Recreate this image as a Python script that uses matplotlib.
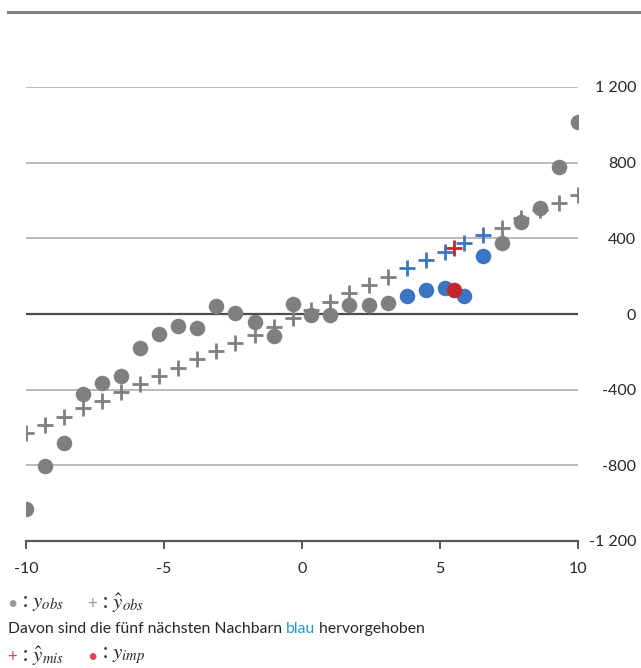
#!/usr/bin/env python3
"""Nearest-neighbour imputation illustration (predictive mean matching)."""

import matplotlib
matplotlib.use("Agg")
import matplotlib.pyplot as plt
from matplotlib.lines import Line2D

# ---------------------------------------------------------------------------
# Data
# ---------------------------------------------------------------------------
X_OBS = [-10.0, -9.31, -8.62, -7.93, -7.24, -6.55, -5.86, -5.17, -4.48, -3.79,
         -3.10, -2.41, -1.72, -1.03, -0.34, 0.34, 1.03, 1.72, 2.41, 3.10,
         3.79, 4.48, 5.17, 5.86, 6.55, 7.24, 7.93, 8.62, 9.31, 10.0]
Y_OBS = [-1031, -803, -682, -423, -365, -328, -180, -106, -63, -74,
         42, 5, -42, -116, 53, -5, -5, 48, 48, 58,
         95, 127, 137, 95, 307, 375, 486, 560, 777, 1015]
Y_HAT_OBS = [-629, -587, -544, -497, -460, -412, -370, -328, -285, -238,
             -196, -153, -111, -69, -21, 21, 63, 111, 153, 196,
             243, 285, 328, 375, 418, 455, 507, 550, 587, 629]
NEIGHBOURS = [20, 21, 22, 23, 24]  # indices of the five nearest neighbours

X_MIS = [5.51]
Y_HAT_MIS = [349]
Y_IMP = [127]

Y_TICKS = [-1200, -800, -400, 0, 400, 800, 1200]
X_TICKS = [-10, -5, 0, 5, 10]

GRAY = "#7f7f7f"
BLUE = "#3b76c4"
RED = "#c0282e"
TEXT = "#262626"

plt.rcParams["font.family"] = ["Lato", "DejaVu Sans"]
plt.rcParams["mathtext.fontset"] = "stix"

W, H = 641, 668
fig = plt.figure(figsize=(W / 100, H / 100), dpi=100)
ax = fig.add_axes([26 / W, (H - 541) / H, (578 - 26) / W, (541 - 87) / H])

# grid + zero line
for yv in Y_TICKS:
    if yv == -1200:
        continue
    if yv == 0:
        ax.axhline(yv, color="#4d4d4d", linewidth=1.6, zorder=1)
    else:
        ax.axhline(yv, color="#b4b4b4", linewidth=1.3, zorder=0)

others = [i for i in range(len(X_OBS)) if i not in NEIGHBOURS]
ms_plus = 11
mew = 2.0
s_dot = 125

ax.plot([X_OBS[i] for i in others], [Y_HAT_OBS[i] for i in others], "+",
        color=GRAY, markersize=ms_plus, markeredgewidth=mew, zorder=2)
ax.plot([X_OBS[i] for i in NEIGHBOURS], [Y_HAT_OBS[i] for i in NEIGHBOURS], "+",
        color=BLUE, markersize=ms_plus, markeredgewidth=mew, zorder=2)
ax.scatter([X_OBS[i] for i in others], [Y_OBS[i] for i in others],
           s=s_dot, color=GRAY, linewidths=0, zorder=3)
ax.scatter([X_OBS[i] for i in NEIGHBOURS], [Y_OBS[i] for i in NEIGHBOURS],
           s=s_dot, color=BLUE, linewidths=0, zorder=3)
ax.plot(X_MIS, Y_HAT_MIS, "+", color=RED, markersize=ms_plus,
        markeredgewidth=mew, zorder=4)
ax.scatter(X_MIS, Y_IMP, s=s_dot, color=RED, linewidths=0, zorder=4)

ax.set_xlim(-10, 10)
ax.set_ylim(-1200, 1200)
for side in ["top", "left", "right"]:
    ax.spines[side].set_visible(False)
ax.spines["bottom"].set_color("#595959")
ax.spines["bottom"].set_linewidth(1.6)

ax.set_xticks(X_TICKS)
ax.set_xticklabels([str(v) for v in X_TICKS])
ax.tick_params(axis="x", direction="out", length=6, width=1.4, color="#595959",
               labelsize=11.5, labelcolor=TEXT, pad=9)

ax.yaxis.tick_right()
ax.set_yticks(Y_TICKS)
ax.set_yticklabels([f"{v:,}".replace(",", " ") for v in Y_TICKS])
ax.tick_params(axis="y", length=0, labelsize=11.5, labelcolor=TEXT, pad=42)
for lab in ax.get_yticklabels():
    lab.set_horizontalalignment("right")

# top rule
fig.add_artist(Line2D([8 / W, 1.0], [(H - 12) / H] * 2, color="#808080",
                      linewidth=2.2, transform=fig.transFigure))


# legend text
def fx(px):
    return px / W


def fy(py):
    return (H - py) / H


MATH_FS = 15
fig.text(fx(7), fy(604), "\u2022", color="#9a9a9a", fontsize=13, va="center")
fig.text(fx(22), fy(603), r": $y_{obs}$", color=TEXT, fontsize=MATH_FS, va="center")
fig.text(fx(87), fy(604), "+", color="#9a9a9a", fontsize=12, va="center")
fig.text(fx(102), fy(603), r": $\hat{y}_{obs}$", color=TEXT, fontsize=MATH_FS, va="center")

BODY_FS = 11.3
t = fig.text(fx(8), fy(633), "Davon sind die fünf nächsten Nachbarn ", color=TEXT,
             fontsize=BODY_FS, va="baseline")
fig.canvas.draw()
bb = t.get_window_extent()
t2 = fig.text(bb.x1 / W, fy(633), "blau", color="#1f9ad6", fontsize=BODY_FS,
              va="baseline")
fig.canvas.draw()
bb2 = t2.get_window_extent()
fig.text(bb2.x1 / W, fy(633), " hervorgehoben", color=TEXT, fontsize=BODY_FS,
         va="baseline")

fig.text(fx(7), fy(657), "+", color="#e0464f", fontsize=12, va="center")
fig.text(fx(22), fy(656), r": $\hat{y}_{mis}$", color=TEXT, fontsize=MATH_FS, va="center")
fig.text(fx(87), fy(657), "\u2022", color="#e0464f", fontsize=13, va="center")
fig.text(fx(102), fy(656), r": $y_{imp}$", color=TEXT, fontsize=MATH_FS, va="center")

fig.savefig("out.png", dpi=100)
